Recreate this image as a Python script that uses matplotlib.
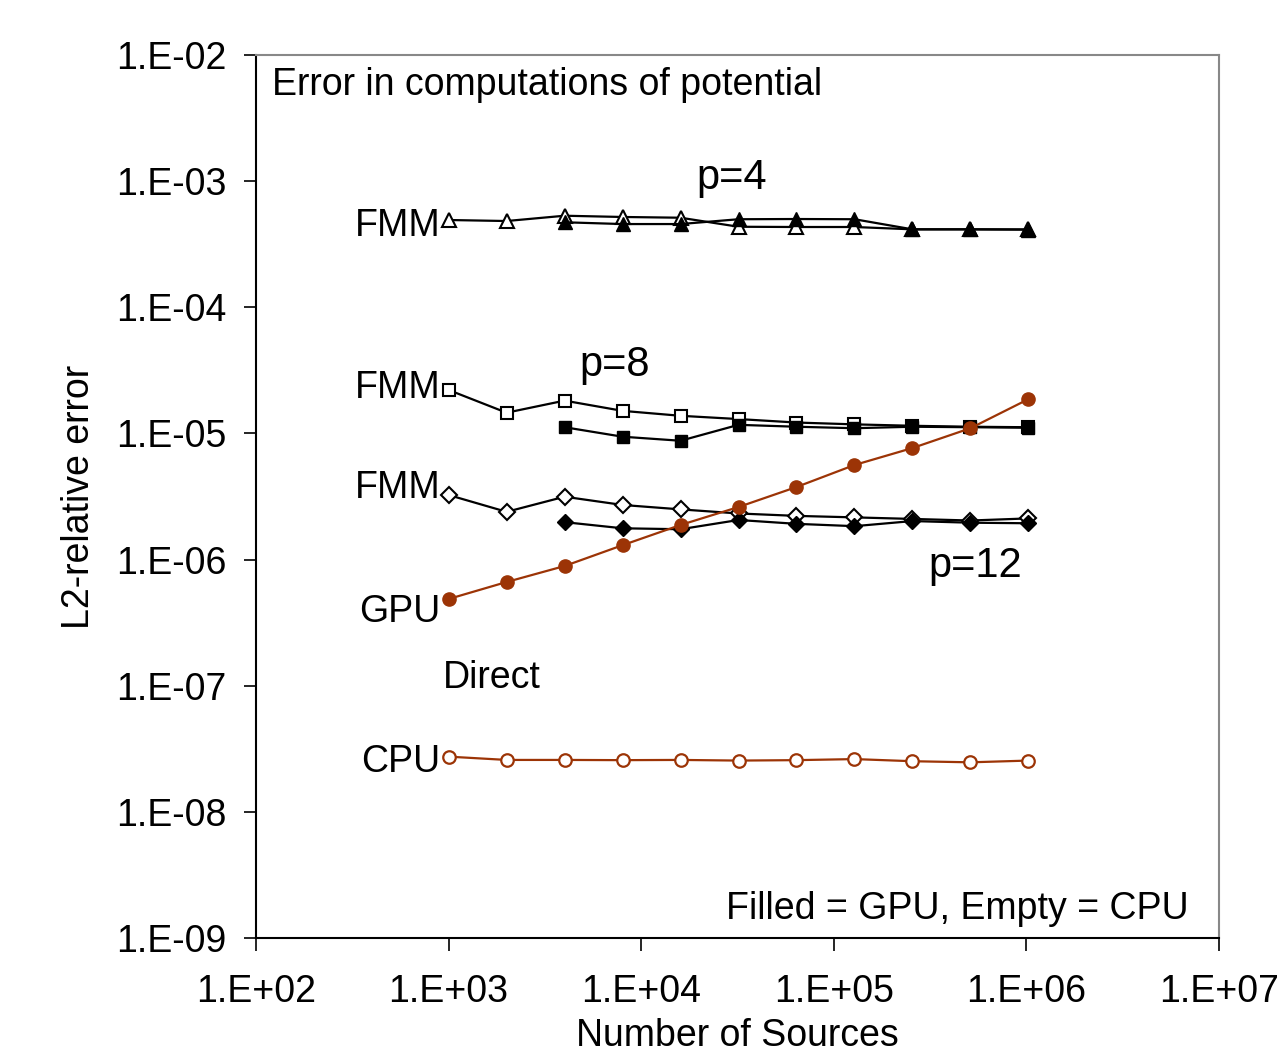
import matplotlib
matplotlib.use("Agg")
import matplotlib.pyplot as plt

plt.rcParams['font.family'] = ['Liberation Sans', 'DejaVu Sans']

# number of sources
n_all = [1000, 2000, 4000, 8000, 16000, 32000, 64000, 128000, 256000, 512000, 1024000]
n_gpu = n_all[2:]

# FMM p=4
p4_cpu = [4.92e-4, 4.83e-4, 5.32e-4, 5.2e-4, 5.13e-4, 4.35e-4, 4.33e-4, 4.33e-4, 4.15e-4, 4.15e-4, 4.14e-4]
p4_gpu = [4.72e-4, 4.57e-4, 4.57e-4, 4.99e-4, 5.01e-4, 4.99e-4, 4.15e-4, 4.15e-4, 4.13e-4]
# FMM p=8
p8_cpu = [2.21e-5, 1.46e-5, 1.82e-5, 1.51e-5, 1.38e-5, 1.30e-5, 1.22e-5, 1.18e-5, 1.15e-5, 1.13e-5, 1.12e-5]
p8_gpu = [1.12e-5, 9.42e-6, 8.75e-6, 1.17e-5, 1.13e-5, 1.10e-5, 1.13e-5, 1.12e-5, 1.11e-5]
# FMM p=12
p12_cpu = [3.25e-6, 2.39e-6, 3.15e-6, 2.71e-6, 2.50e-6, 2.32e-6, 2.22e-6, 2.16e-6, 2.10e-6, 2.04e-6, 2.12e-6]
p12_gpu = [1.98e-6, 1.77e-6, 1.74e-6, 2.06e-6, 1.92e-6, 1.84e-6, 2.02e-6, 1.96e-6, 1.94e-6]
# direct summation
direct_gpu = [4.87e-7, 6.64e-7, 8.89e-7, 1.30e-6, 1.88e-6, 2.61e-6, 3.76e-6, 5.62e-6, 7.66e-6, 1.10e-5, 1.87e-5]
direct_cpu = [2.74e-8, 2.58e-8, 2.58e-8, 2.57e-8, 2.58e-8, 2.55e-8, 2.57e-8, 2.62e-8, 2.52e-8, 2.47e-8, 2.55e-8]

xticks = [1e2, 1e3, 1e4, 1e5, 1e6, 1e7]
xlabels = ['1.E+02', '1.E+03', '1.E+04', '1.E+05', '1.E+06', '1.E+07']
yticks = [1e-9, 1e-8, 1e-7, 1e-6, 1e-5, 1e-4, 1e-3, 1e-2]
ylabels = ['1.E-09', '1.E-08', '1.E-07', '1.E-06', '1.E-05', '1.E-04', '1.E-03', '1.E-02']

orange = '#9c3406'
fs = 27

fig = plt.figure(figsize=(12.87, 10.60), dpi=100)
ax = fig.add_axes([0.1989, 0.1151, 0.7483, 0.833])

lw = 1.6
ax.plot(n_all, p4_cpu, color='k', lw=lw, marker='^', ms=10, mfc='white', mec='k', mew=1.5)
ax.plot(n_gpu, p4_gpu, color='k', lw=lw, marker='^', ms=10, mfc='k', mec='k')
ax.plot(n_all, p8_cpu, color='k', lw=lw, marker='s', ms=8.5, mfc='white', mec='k', mew=1.5)
ax.plot(n_gpu, p8_gpu, color='k', lw=lw, marker='s', ms=8.5, mfc='k', mec='k')
ax.plot(n_all, p12_cpu, color='k', lw=lw, marker='D', ms=8, mfc='white', mec='k', mew=1.5)
ax.plot(n_gpu, p12_gpu, color='k', lw=lw, marker='D', ms=8, mfc='k', mec='k')
ax.plot(n_all, direct_gpu, color=orange, lw=lw, marker='o', ms=9.5, mfc=orange, mec=orange)
ax.plot(n_all, direct_cpu, color=orange, lw=lw, marker='o', ms=9, mfc='white', mec=orange, mew=1.6)

ax.set_xscale('log')
ax.set_yscale('log')
ax.set_xlim(1e2, 1e7)
ax.set_ylim(1e-9, 1e-2)
ax.set_xticks(xticks)
ax.set_xticklabels(xlabels, fontsize=fs)
ax.set_yticks(yticks)
ax.set_yticklabels(ylabels, fontsize=fs)
ax.minorticks_off()
ax.tick_params(axis='y', direction='out', length=9, width=1.2, pad=12)
ax.tick_params(axis='x', direction='out', length=9, width=1.2, pad=17)

for side in ['top', 'right']:
    ax.spines[side].set_color('#888888')
    ax.spines[side].set_linewidth(1.5)
for side in ['left', 'bottom']:
    ax.spines[side].set_color('k')
    ax.spines[side].set_linewidth(1.5)

ax.set_xlabel('Number of Sources', fontsize=fs, labelpad=6)
ax.set_ylabel('L2-relative error', fontsize=fs, labelpad=14)

ax.text(0.017, 0.986, 'Error in computations of potential', transform=ax.transAxes,
        fontsize=fs, ha='left', va='top')
ax.text(0.968, 0.012, 'Filled = GPU, Empty = CPU', transform=ax.transAxes,
        fontsize=fs, ha='right', va='bottom')

ax.text(2.94e4, 1.06e-3, 'p=4', fontsize=fs + 3, ha='center', va='center')
ax.text(7.27e3, 3.48e-5, 'p=8', fontsize=fs + 3, ha='center', va='center')
ax.text(5.4e5, 8.9e-7, 'p=12', fontsize=fs + 3, ha='center', va='center')

ax.text(905, 4.4e-4, 'FMM', fontsize=fs, ha='right', va='center')
ax.text(905, 2.29e-5, 'FMM', fontsize=fs, ha='right', va='center')
ax.text(905, 3.69e-6, 'FMM', fontsize=fs, ha='right', va='center')
ax.text(905, 3.85e-7, 'GPU', fontsize=fs, ha='right', va='center')
ax.text(935, 1.15e-7, 'Direct', fontsize=fs, ha='left', va='center')
ax.text(905, 2.48e-8, 'CPU', fontsize=fs, ha='right', va='center')

fig.savefig('out.png', dpi=100)
